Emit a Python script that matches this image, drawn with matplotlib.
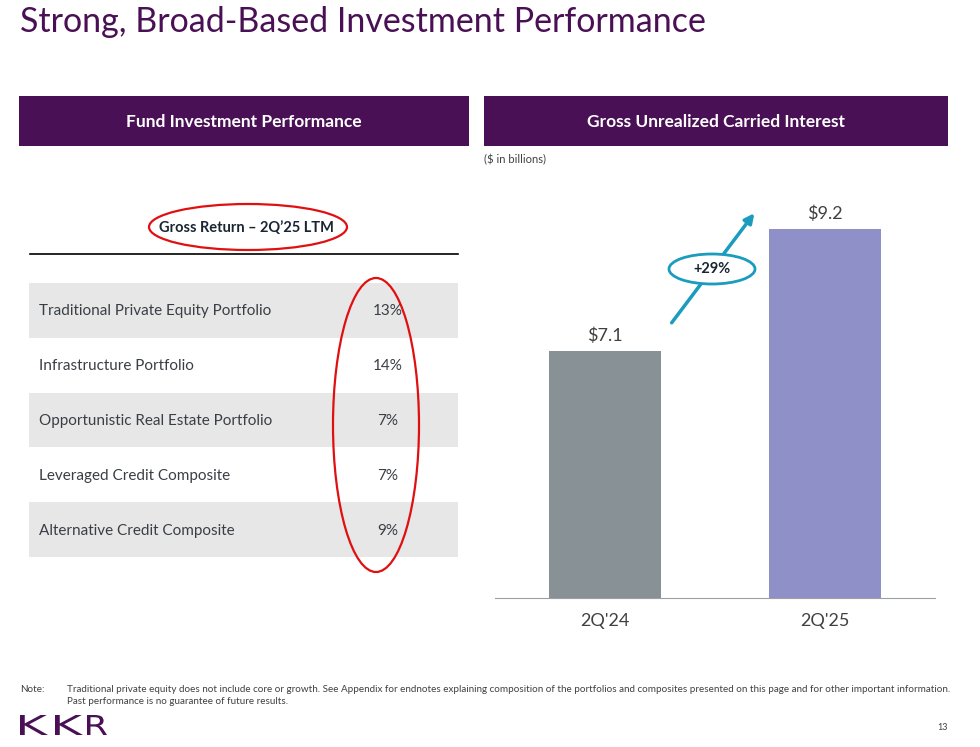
import matplotlib.pyplot as plt
from matplotlib.patches import Rectangle, Ellipse, FancyArrowPatch, PathPatch
from matplotlib.textpath import TextPath
from matplotlib.font_manager import FontProperties
from matplotlib.transforms import Affine2D

plt.rcParams['font.family'] = ['Lato', 'DejaVu Sans']

# data
portfolios = ["Traditional Private Equity Portfolio", "Infrastructure Portfolio",
              "Opportunistic Real Estate Portfolio", "Leveraged Credit Composite",
              "Alternative Credit Composite"]
gross_return = [13, 14, 7, 7, 9]
periods = ["2Q'24", "2Q'25"]
carry = [7.1, 9.2]
growth_label = "+29%"

purple = '#4A1055'
W, H = 980, 747

fig = plt.figure(figsize=(W / 100, H / 100), dpi=100)
bg = fig.add_axes([0, 0, 1, 1])
bg.set_xlim(0, W)
bg.set_ylim(H, 0)
bg.axis('off')

# title
bg.text(20, 22, "Strong, Broad-Based Investment Performance", fontsize=24.5,
        color=purple, va='center', ha='left')

# header boxes
for x0, x1, txt in [(19, 469, "Fund Investment Performance"),
                    (484, 948, "Gross Unrealized Carried Interest")]:
    bg.add_patch(Rectangle((x0, 96), x1 - x0, 50, color=purple, lw=0))
    bg.text((x0 + x1) / 2, 122, txt, color='white', fontsize=12.5,
            fontweight='bold', ha='center', va='center')
bg.text(484, 160, "($ in billions)", fontsize=8, color='#404040', va='center')

# table
bg.text(246, 228, "Gross Return \u2013 2Q\u201925 LTM", fontsize=10.5, fontweight='bold',
        color='#1a2533', ha='center', va='center')
bg.plot([30, 458], [254, 254], color='black', lw=1.2)
row_h = 54.8
for i, (name, val) in enumerate(zip(portfolios, gross_return)):
    y0 = 283 + i * row_h
    if i % 2 == 0:
        bg.add_patch(Rectangle((29, y0), 429, row_h, color='#e7e7e7', lw=0))
    bg.text(39, y0 + row_h / 2 + 1, name, fontsize=11, color='#3a3f45', va='center')
    bg.text(388, y0 + row_h / 2 + 1, f"{val}%", fontsize=11, color='#3a3f45',
            va='center', ha='center')

# red hand-drawn marks
bg.add_patch(Ellipse((248, 227), 198, 46, fill=False, ec='#e01010', lw=1.6))
bg.add_patch(Ellipse((376, 425), 86, 294, fill=False, ec='#e01010', lw=1.6))

# bar chart
base_px, top_px = 598, 200
ax = fig.add_axes([495 / W, 1 - base_px / H, 440 / W, (base_px - top_px) / H])
y_floor = 2.85
px_per = (base_px - 229) / (carry[1] - y_floor)
ax.set_ylim(y_floor, y_floor + (base_px - top_px) / px_per)
ax.set_xlim(-0.5, 1.5)
bars = ax.bar(range(len(carry)), carry, width=0.505, color=['#879196', '#8F90C8'])
for b, v in zip(bars, carry):
    ax.text(b.get_x() + b.get_width() / 2, v + 0.12, f"${v}", ha='center',
            va='bottom', fontsize=13, color='#404040')
ax.set_xticks(range(len(carry)))
ax.set_xticklabels(periods, fontsize=13, color='#404040')
ax.tick_params(axis='x', length=0, pad=11)
ax.set_yticks([])
for s in ['top', 'right', 'left']:
    ax.spines[s].set_visible(False)
ax.spines['bottom'].set_color('#9aa0a6')
ax.patch.set_alpha(0)

# growth arrow + bubble
teal = '#1B9BBE'
bg.add_patch(FancyArrowPatch((670, 325), (756, 211), arrowstyle='-|>',
                             mutation_scale=14, color=teal, lw=2.5))
bg.add_patch(Ellipse((712, 269), 86, 30, fc='white', ec=teal, lw=2, zorder=5))
bg.text(712, 269, growth_label, fontsize=10.5, fontweight='bold', color='#1a2533',
        ha='center', va='center', zorder=6)

# footer
bg.text(20, 690, "Note:", fontsize=7.1, color='#404040', va='center')
bg.text(67, 690, "Traditional private equity does not include core or growth. See Appendix for "
        "endnotes explaining composition of the portfolios and composites presented on this "
        "page and for other important information.", fontsize=7.1, color='#404040', va='center')
bg.text(67, 702, "Past performance is no guarantee of future results.", fontsize=7.1,
        color='#404040', va='center')

# KKR logo, letters stretched to fill their boxes
logo_prop = FontProperties(family='DejaVu Sans', weight='normal')
for letter, (lx0, lx1) in zip("KKR", [(20, 48), (55, 83), (87, 107)]):
    tp = TextPath((0, 0), letter, size=1, prop=logo_prop)
    ext = tp.get_extents()
    sx = (lx1 - lx0) / ext.width
    sy = 20 / ext.height
    tr = Affine2D().translate(-ext.x0, -ext.y0).scale(sx, -sy).translate(lx0, 735)
    bg.add_patch(PathPatch(tr.transform_path(tp), fc=purple, lw=0))
bg.text(948, 727, "13", fontsize=6.5, color='#404040', va='center', ha='right')

fig.savefig('out.png', dpi=100)
